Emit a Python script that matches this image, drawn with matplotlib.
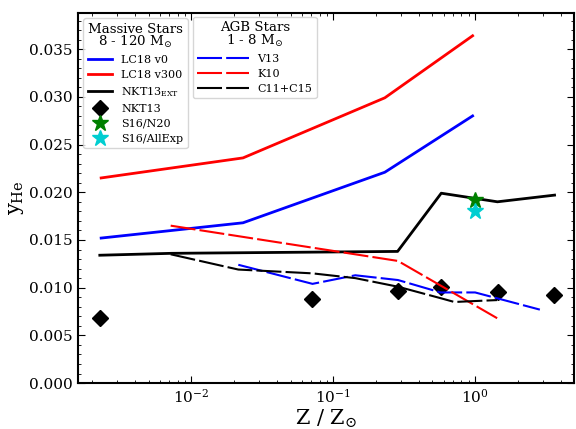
import numpy as np
import matplotlib
matplotlib.use('Agg')
import matplotlib.pyplot as plt
from matplotlib.ticker import MultipleLocator

plt.rcParams['font.family'] = 'DejaVu Serif'
plt.rcParams['mathtext.fontset'] = 'dejavuserif'

# Massive stars
lc18_z = [0.00231, 0.0231, 0.231, 0.96]
lc18_v0 = [0.0152, 0.0168, 0.0221, 0.0280]
lc18_v300 = [0.0215, 0.0236, 0.0299, 0.0364]

nkt13ext_z = [0.00226, 0.00723, 0.284, 0.577, 1.436, 3.63]
nkt13ext_y = [0.0134, 0.0136, 0.0138, 0.0199, 0.0190, 0.0197]

nkt13_z = [0.00226, 0.0711, 0.285, 0.577, 1.44, 3.6]
nkt13_y = [0.0068, 0.0088, 0.0096, 0.0101, 0.0095, 0.0092]

s16_z = [1.0]
s16_n20 = [0.0192]
s16_allexp = [0.0180]

# AGB stars
v13_z = [0.0214, 0.0714, 0.143, 0.286, 0.571, 1.0, 2.86]
v13_y = [0.0124, 0.0104, 0.0113, 0.0108, 0.0095, 0.0095, 0.0077]

k10_z = [0.00714, 0.286, 1.43]
k10_y = [0.0165, 0.0128, 0.0068]

c11_z = [0.00714, 0.0214, 0.0714, 0.143, 0.286, 0.571, 0.714, 1.0, 1.43]
c11_y = [0.0135, 0.0119, 0.0115, 0.0110, 0.0101, 0.0089, 0.0085, 0.0086, 0.0087]

fig = plt.figure(figsize=(5.76, 4.29), dpi=100)
ax = fig.add_axes([0.135, 0.107, 0.862, 0.863])

# massive star models
h1, = ax.plot(lc18_z, lc18_v0, color='b', lw=2, label='LC18 v0')
h2, = ax.plot(lc18_z, lc18_v300, color='r', lw=2, label='LC18 v300')
h3, = ax.plot(nkt13ext_z, nkt13ext_y, color='k', lw=2, label=r'NKT13$_{\rm EXT}$')
h4, = ax.plot(nkt13_z, nkt13_y, 'D', color='k', ms=8, label='NKT13')
h5, = ax.plot(s16_z, s16_n20, '*', color='g', ms=12, label='S16/N20')
h6, = ax.plot(s16_z, s16_allexp, '*', color='darkturquoise', ms=12, label='S16/AllExp')

# AGB models
dash = (0, (12, 2))
a1, = ax.plot(v13_z, v13_y, color='b', lw=1.5, ls=dash, label='V13')
a2, = ax.plot(k10_z, k10_y, color='r', lw=1.5, ls=dash, label='K10')
a3, = ax.plot(c11_z, c11_y, color='k', lw=1.5, ls=dash, label='C11+C15')

ax.set_xscale('log')
ax.set_xlim(0.00158, 5.0)
ax.set_ylim(0.0, 0.0388)
ax.yaxis.set_major_locator(MultipleLocator(0.005))
ax.yaxis.set_minor_locator(MultipleLocator(0.001))
ax.tick_params(which='both', direction='in', top=True, right=True, labelsize=11)
ax.tick_params(which='major', length=5)
ax.tick_params(which='minor', length=2.5)
for s in ax.spines.values():
    s.set_linewidth(1.5)

ax.set_xlabel(r'Z / Z$_{\odot}$', fontsize=15, labelpad=1)
ax.set_ylabel(r'y$_{\rm He}$', fontsize=15, labelpad=2)

leg1 = ax.legend(handles=[h1, h2, h3, h4, h5, h6], loc='upper left',
                 title='Massive Stars\n8 - 120 M$_{\\odot}$', fontsize=8,
                 title_fontsize=9.6, handlelength=2.2, labelspacing=0.45)
leg1.get_title().set_multialignment('center')
leg1.get_title().set_linespacing(0.85)
ax.add_artist(leg1)
leg2 = ax.legend(handles=[a1, a2, a3], loc='upper left', bbox_to_anchor=(0.232, 0.989),
                 borderaxespad=0, title='AGB Stars\n1 - 8 M$_{\\odot}$', fontsize=8,
                 title_fontsize=9.6, handlelength=4.6, labelspacing=0.45)
leg2.get_title().set_multialignment('center')
leg2.get_title().set_linespacing(0.85)

fig.savefig('out.png', dpi=100)
